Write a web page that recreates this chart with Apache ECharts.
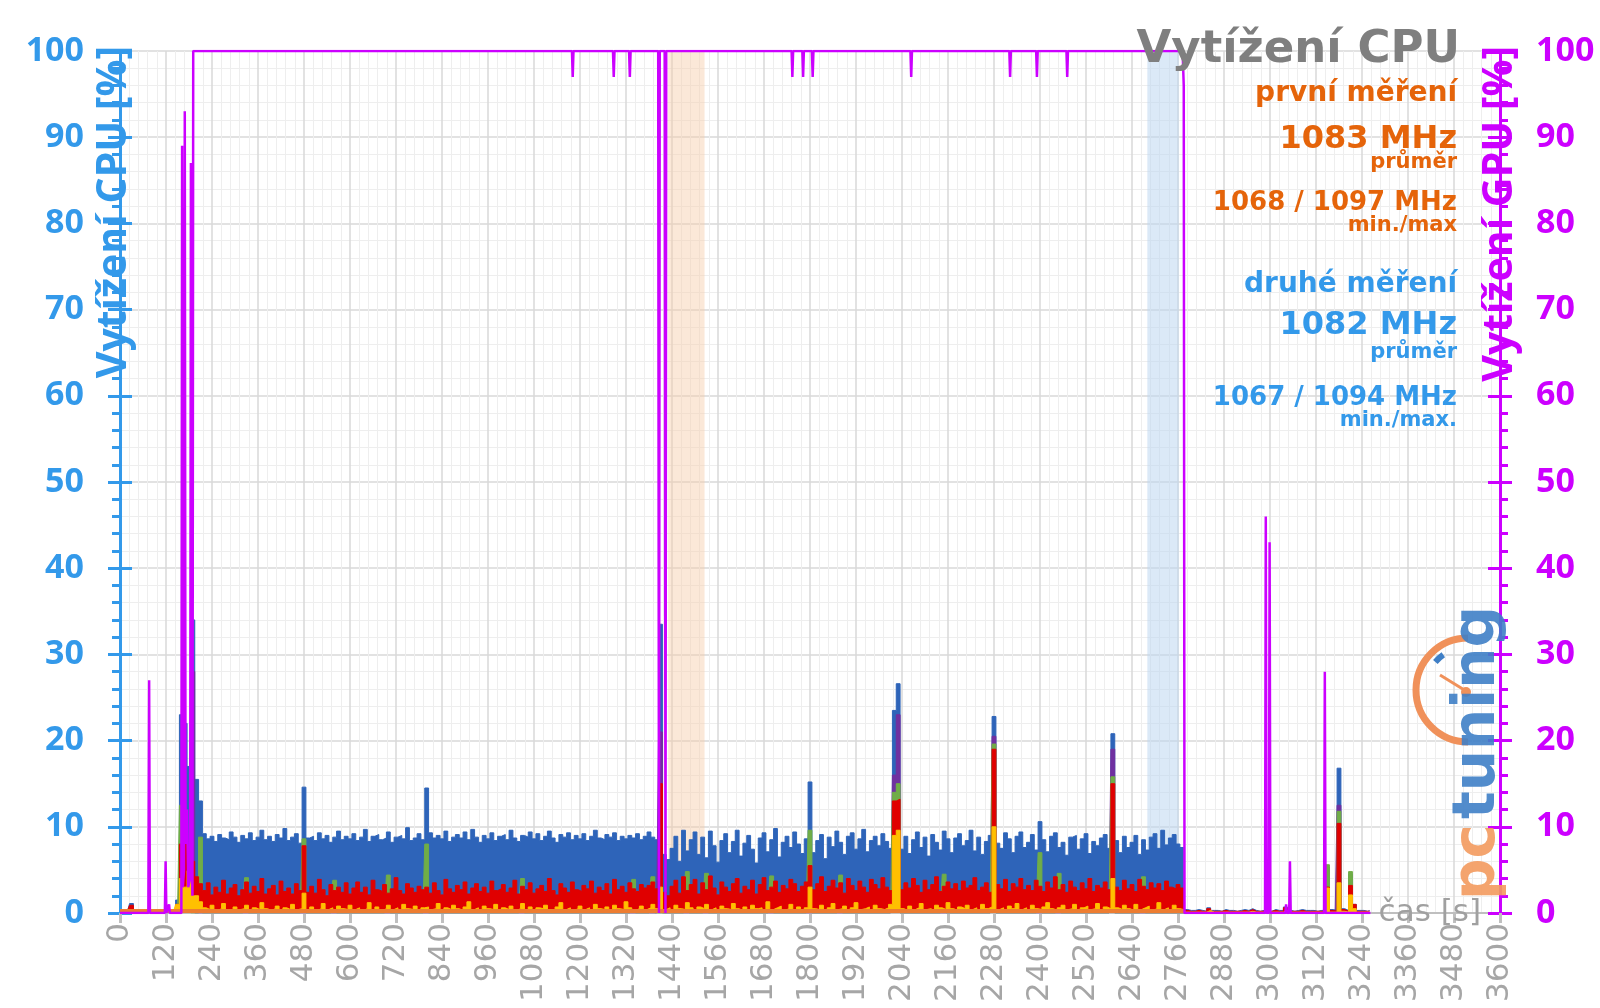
<!DOCTYPE html>
<html><head><meta charset="utf-8">
<script src="https://cdn.jsdelivr.net/npm/echarts@6/dist/echarts.min.js"></script>
<style>html,body{margin:0;padding:0;background:#fff}#c{width:1600px;height:1008px}</style>
</head><body><div id="c"></div>
<script>
// seconds between CPU samples
const STEP = 10;

// CPU load, visible top of each coloured layer, one value per STEP seconds (t = 0 .. 3260 s)
const cpuBlue = [
0.3,0.4,0.3,1.1,0.3,0.2,0.3,0.2,0.3,0.2,0.4,0.3,0.3,0.2,0.4,1.5,23,22,17,34,
15.5,13,9.2,8.6,8.9,8.3,9.1,8.7,8.5,9.4,8.8,8.2,9.0,8.6,9.3,8.4,8.8,9.6,8.5,8.9,
8.3,9.1,8.7,9.8,8.4,8.8,9.2,8.1,14.6,8.7,8.9,8.4,9.3,8.6,9.0,8.2,8.8,9.5,8.5,8.9,
8.6,9.2,8.4,8.8,9.7,8.3,8.9,9.1,8.5,8.7,9.4,8.2,8.8,9.0,8.6,9.9,8.4,8.7,9.2,8.5,
14.5,9.3,8.7,9.0,8.6,9.5,8.3,8.8,9.1,8.7,9.4,8.5,9.7,8.8,8.2,9.0,8.6,9.3,8.4,8.9,
9.1,8.5,9.6,8.7,8.3,9.0,8.8,9.4,8.6,9.2,8.4,8.9,9.5,8.7,8.2,9.1,8.8,9.3,8.5,9.0,
8.6,9.2,8.4,8.9,9.6,8.7,8.5,9.1,8.8,9.3,8.4,8.9,8.6,9.0,8.7,9.2,8.5,8.9,9.4,8.8,
8.5,33.5,6.8,6.2,7.5,8.9,6.0,9.6,7.2,8.5,9.4,6.8,8.8,6.4,9.5,7.8,5.9,8.4,9.2,7.0,
8.3,9.6,6.6,8.1,9.0,7.4,5.8,8.7,9.3,7.1,8.5,9.8,6.5,8.2,8.9,7.6,9.4,8.0,6.9,8.6,
15.2,7.0,8.4,9.1,6.3,8.8,7.7,9.5,8.2,6.8,8.9,9.3,7.4,8.6,9.7,7.1,8.4,8.9,7.8,9.2,
8.3,7.5,23.5,26.6,7.4,8.9,6.9,8.5,9.4,7.6,8.8,6.6,9.1,8.2,7.3,9.5,8.6,7.0,8.7,9.2,
7.8,8.4,9.6,7.2,8.8,6.8,8.3,9.0,22.8,8.1,7.5,9.3,8.6,7.0,8.9,9.4,7.6,8.2,9.1,7.3,
10.6,8.5,7.1,8.9,9.3,7.6,8.2,6.7,8.8,9.0,7.4,8.6,9.2,6.9,8.3,7.8,8.7,9.1,7.5,20.8,
8.4,7.0,8.9,7.6,8.2,9.0,6.8,8.5,7.3,8.8,9.2,7.5,9.6,7.9,8.7,9.1,8.0,7.6,0.4,0.3,
0.3,0.4,0.3,0.2,0.6,0.3,0.3,0.2,0.4,0.3,0.3,0.2,0.3,0.4,0.3,0.5,0.3,0.2,0.3,0.3,
0.2,0.4,0.3,0.3,0.7,0.3,0.2,0.3,0.4,0.3,0.3,0.3,0.2,0.3,0.3,5.3,0.4,0.3,16.8,0.5,
0.3,4.5,1.0,0.3,0.3,0.2,0.3
];
const cpuRed = [
0.3,0.2,0.3,0.9,0.2,0.2,0.3,0.2,0.2,0.3,0.2,0.3,0.2,0.3,0.4,1.0,8.0,9.4,5.0,6.0,
4.2,3.4,2.6,3.5,2.1,3.0,2.4,3.8,2.2,2.9,3.3,2.0,2.7,3.6,2.3,3.1,2.5,4.0,2.2,2.8,
3.2,2.1,3.7,2.5,2.9,2.2,3.4,2.6,7.8,2.4,3.1,2.3,3.9,2.7,2.0,3.3,2.6,3.0,2.4,3.5,
2.2,2.9,3.6,2.4,3.0,2.1,3.8,2.7,2.5,3.3,2.3,2.8,4.1,2.6,2.2,3.4,2.9,2.4,3.1,2.7,
3.0,2.3,3.5,2.6,2.1,3.9,2.8,2.4,3.2,2.7,3.6,2.2,2.9,3.4,2.5,3.0,2.3,3.7,2.6,2.8,
3.3,2.4,2.9,3.8,2.2,3.1,2.7,3.5,2.3,2.8,3.2,2.5,4.0,2.6,2.1,3.4,2.9,2.4,3.6,2.7,
2.5,3.2,2.8,3.7,2.3,3.0,2.6,3.4,2.2,3.9,2.7,3.1,2.4,3.5,2.8,2.5,3.3,2.9,3.2,3.6,
2.8,15.0,2.4,2.0,3.1,3.8,2.3,4.2,2.6,3.3,3.9,2.2,3.5,2.7,4.3,2.9,2.1,3.6,3.0,2.5,
3.4,4.0,2.3,3.1,2.7,3.8,2.2,3.3,4.1,2.6,3.0,3.7,2.4,3.2,2.8,3.9,3.4,2.5,3.1,3.6,
5.5,2.7,3.4,4.2,2.5,3.1,3.8,2.9,3.5,2.3,4.0,3.2,2.6,3.7,3.0,2.4,3.9,3.3,2.8,4.1,
3.0,2.6,13.0,13.2,2.7,3.5,2.9,4.0,3.2,2.4,3.8,2.7,3.3,4.2,2.5,3.1,3.6,2.8,3.4,2.6,
3.7,2.9,3.2,4.1,2.6,3.0,3.5,2.4,19.0,3.3,2.8,3.9,2.5,3.4,3.0,4.0,2.7,3.2,2.6,3.8,
3.1,2.5,3.6,2.9,4.2,2.7,3.3,2.4,3.7,3.0,2.6,3.5,2.8,4.0,2.5,3.2,2.9,3.6,2.7,15.0,
3.0,2.6,3.8,2.8,3.3,2.5,3.9,3.1,2.7,3.5,2.9,3.4,2.6,3.7,3.0,2.8,3.3,2.9,0.3,0.2,
0.2,0.3,0.2,0.2,0.5,0.2,0.2,0.2,0.3,0.2,0.2,0.2,0.2,0.3,0.2,0.4,0.2,0.2,0.2,0.2,
0.2,0.3,0.2,0.2,0.6,0.2,0.2,0.2,0.3,0.2,0.2,0.2,0.2,0.2,0.2,3.0,0.3,0.2,10.4,0.4,
0.2,3.2,1.0,0.2,0.2,0.2,0.2
];
const cpuYellow = [
0.1,0.1,0.1,0.3,0.1,0.1,0.1,0.1,0.1,0.1,0.1,0.1,0.1,0.1,0.2,1.0,4.0,3.0,4.9,2.0,
2.0,1.3,0.6,0.4,0.9,0.3,0.5,1.1,0.4,0.3,0.7,0.4,0.5,0.9,0.3,0.6,0.4,1.2,0.5,0.3,
0.5,0.8,0.3,0.6,0.4,1.0,0.4,0.5,2.3,0.4,0.7,0.3,0.5,1.1,0.4,0.6,0.3,0.8,0.5,0.4,
0.9,0.4,0.6,0.3,0.5,1.2,0.4,0.7,0.3,0.5,0.9,0.4,0.6,0.3,1.0,0.5,0.4,0.8,0.3,0.6,
0.7,0.4,0.5,1.1,0.3,0.6,0.4,0.9,0.5,0.3,0.7,1.3,0.4,0.6,0.3,0.8,0.5,0.4,1.0,0.3,
0.6,0.4,0.8,0.3,0.5,1.1,0.4,0.7,0.3,0.6,0.5,0.9,0.4,0.3,0.7,1.2,0.4,0.6,0.3,0.5,
0.8,0.4,0.6,0.3,1.0,0.5,0.4,0.7,0.3,0.9,0.5,0.4,1.3,0.6,0.3,0.5,0.8,0.4,0.6,1.0,
0.5,3.0,0.4,0.6,0.3,0.9,0.5,0.4,1.2,0.6,0.3,0.7,0.5,1.0,0.4,0.6,0.3,0.8,0.5,0.4,
1.1,0.5,0.3,0.7,0.4,0.9,0.5,0.6,0.3,1.3,0.4,0.6,0.8,0.3,0.5,1.0,0.4,0.7,0.3,0.6,
3.0,0.5,0.4,0.9,0.3,0.6,1.1,0.4,0.5,0.8,0.3,0.6,1.2,0.4,0.5,0.7,0.3,0.9,0.5,0.4,
0.6,1.0,9.0,9.6,0.5,0.3,0.8,0.4,0.6,1.1,0.4,0.5,0.3,0.9,0.6,0.4,1.2,0.5,0.3,0.7,
0.5,0.9,0.4,0.6,0.3,1.0,0.5,0.7,10.0,0.4,0.6,0.3,0.8,0.5,1.1,0.4,0.6,0.3,0.9,0.5,
0.4,0.7,1.2,0.5,0.3,0.6,0.9,0.4,0.5,1.0,0.3,0.6,0.8,0.4,0.5,1.1,0.3,0.7,0.5,4.0,
0.6,0.4,0.9,0.5,0.3,1.0,0.4,0.6,0.8,0.3,0.5,1.2,0.4,0.6,0.3,0.9,0.5,0.4,0.1,0.1,
0.1,0.1,0.1,0.1,0.3,0.1,0.1,0.1,0.1,0.1,0.1,0.1,0.1,0.1,0.1,0.2,0.1,0.1,0.1,0.1,
0.1,0.1,0.1,0.1,0.3,0.1,0.1,0.1,0.1,0.1,0.1,0.1,0.1,0.1,0.1,2.9,0.1,0.1,3.5,0.2,
0.1,2.1,0.5,0.1,0.1,0.1,0.1
];
// sparse layers: [time s, value %]
const cpuGreen = [
[150,0],[160,12.5],[170,8.0],[180,6.0],[190,0],[200,0],[210,8.8],[220,0],
[320,0],[330,4.1],[340,0],[470,0],[480,8.6],[490,0],[550,0],[560,3.8],[570,0],
[690,0],[700,4.4],[710,0],[790,0],[800,8.0],[810,0],[1040,0],[1050,4.0],[1060,0],
[1330,0],[1340,3.9],[1350,0],[1380,0],[1390,4.2],[1400,0],[1470,0],[1480,4.8],[1490,0],
[1520,0],[1530,4.6],[1540,0],[1690,0],[1700,4.3],[1710,0],[1790,0],[1800,9.6],[1810,0],
[1870,0],[1880,4.4],[1890,0],[2010,0],[2020,14.0],[2030,15.0],[2040,0],
[2140,0],[2150,4.5],[2160,0],[2270,0],[2280,19.6],[2290,0],[2390,0],[2400,7.0],[2410,0],
[2440,0],[2450,4.6],[2460,0],[2580,0],[2590,15.8],[2600,0],[2660,0],[2670,4.2],[2680,0],
[3140,0],[3150,5.6],[3160,0],[3170,0],[3180,11.8],[3190,0],[3200,0],[3210,4.8],[3220,0]
];
const cpuPurple = [
[180,0],[190,28],[200,0],[1400,0],[1410,21],[1420,0],[2010,0],[2020,16],[2030,23],[2040,0],
[2270,0],[2280,20.5],[2290,0],[2580,0],[2590,19],[2600,0],[3170,0],[3180,12.5],[3190,0]
];
const cpuOrange = [[0,0.4],[2775,0.4],[2780,0],[3260,0]];

// GPU load (right axis), [time s, value %]
const gpuLoad = [
[0,0],[74,0],[76,27],[78,0],[117,0],[119,6],[121,0],[126,0],[128,1],[130,0],
[160,0],[162,89],[164,3],[167,5],[169,93],[171,8],[175,12],[178,3],[183,4],[185,87],[187,10],[189,2],[191,100],
[1179,100],[1181,97],[1183,100],[1286,100],[1288,97],[1290,100],[1328,100],[1330,97],[1332,100],
[1404,100],[1406,0],[1408,100],[1421,100],[1423,0],[1425,100],
[1752,100],[1754,97],[1756,100],[1780,100],[1782,97],[1784,100],[1805,100],[1807,97],[1809,100],
[2062,100],[2064,97],[2066,100],[2320,100],[2322,97],[2324,100],[2390,100],[2392,97],[2394,100],
[2469,100],[2471,97],[2473,100],[2772,100],[2775,96],[2777,0],
[2987,0],[2989,46],[2991,0],[2997,0],[2999,43],[3001,0],[3040,0],[3042,1],[3044,0],
[3050,0],[3052,6],[3054,0],[3141,0],[3143,28],[3145,0],[3262,0]
];

// shaded time ranges [from, to] in s
const bandOrange = [1430, 1525];
const bandBlue = [2680, 2762];

// texts
const titleText = 'Vytížení CPU';
const leftName = 'Vytížení CPU [%]';
const rightName = 'Vytížení GPU [%]';
const xName = 'čas [s]';
const infoLines = [
  ['první měření', 'o', 28], ['1083 MHz', 'o', 32], ['průměr', 'o', 21],
  ['1068 / 1097 MHz', 'o', 26], ['min./max', 'o', 21],
  ['druhé měření', 'b', 28], ['1082 MHz', 'b', 32], ['průměr', 'b', 21],
  ['1067 / 1094 MHz', 'b', 26], ['min./max.', 'b', 21]
];

const BLUE_T = '#3399ea', ORANGE_T = '#e5640a', MAG = '#cc00ff', GRAY = '#a6a6a6';

const chart = echarts.init(document.getElementById('c'), null, {renderer: 'canvas'});
const seq = arr => arr.map((v, i) => [i * STEP, v]);
function area(name, data, color, z) {
  return {type: 'line', name, data, step: 'middle', symbol: 'none', showSymbol: false,
    lineStyle: {width: 1, color}, areaStyle: {color, opacity: 1}, itemStyle: {color},
    z, silent: true, animation: false, xAxisIndex: 0, yAxisIndex: 0};
}
const infoY = [94, 140, 163, 203, 226, 285, 326, 353, 398, 421];
const graphics = [];
graphics.push({type: 'text', x: 1460, y: 50, z: 100, style: {text: titleText, fill: '#7f7f7f',
  fontSize: 45, fontWeight: 'bold', fontFamily: 'DejaVu Sans', align: 'right', verticalAlign: 'middle',
  textAlign: 'right', textVerticalAlign: 'middle'}});
infoLines.forEach((l, i) => graphics.push({type: 'text', x: 1457, y: infoY[i], z: 100,
  style: {text: l[0], fill: l[1] === 'o' ? ORANGE_T : BLUE_T, fontSize: l[2], fontWeight: 'bold',
  fontFamily: 'DejaVu Sans', align: 'right', verticalAlign: 'middle', textAlign: 'right', textVerticalAlign: 'middle'}}));
graphics.push({type: 'text', x: 114, y: 46, rotation: Math.PI / 2, z: 100, style: {text: leftName, fill: BLUE_T,
  fontSize: 41, fontWeight: 'bold', fontFamily: 'Open Sans', align: 'right', verticalAlign: 'middle',
  textAlign: 'right', textVerticalAlign: 'middle'}});
graphics.push({type: 'text', x: 1500, y: 46, rotation: Math.PI / 2, z: 100, style: {text: rightName, fill: MAG,
  fontSize: 41, fontWeight: 'bold', fontFamily: 'Open Sans', align: 'right', verticalAlign: 'middle',
  textAlign: 'right', textVerticalAlign: 'middle'}});
graphics.push({type: 'text', x: 1481, y: 913, z: 100, style: {text: xName, fill: '#a0a0a0',
  fontSize: 31, fontFamily: 'DejaVu Sans', align: 'right', verticalAlign: 'middle',
  textAlign: 'right', textVerticalAlign: 'middle'}});
// pctuning logo
graphics.push({type: 'group', z: 90, children: [
  {type: 'arc', shape: {cx: 1468, cy: 690, r: 52, startAngle: Math.PI / 2, endAngle: Math.PI * 1.5, clockwise: true},
    style: {stroke: '#f0915a', fill: null, lineWidth: 7}, z: 90},
  {type: 'arc', shape: {cx: 1468, cy: 690, r: 43, startAngle: 3.85, endAngle: 4.1, clockwise: true},
    style: {stroke: '#3f7fc6', fill: null, lineWidth: 6}, z: 91},
  {type: 'line', shape: {x1: 1466, y1: 691, x2: 1440, y2: 675}, style: {stroke: '#f0915a', lineWidth: 3}, z: 91},
  {type: 'circle', shape: {cx: 1466, cy: 692, r: 5}, style: {fill: '#f0915a'}, z: 91},
  {type: 'text', x: 1479, y: 900, rotation: Math.PI / 2, z: 92, style: {text: 'pc', fill: '#f39a5e', opacity: 0.9,
    fontSize: 58, fontWeight: 'bold', fontFamily: 'DejaVu Sans', align: 'left', verticalAlign: 'middle',
    textAlign: 'left', textVerticalAlign: 'middle'}},
  {type: 'text', x: 1479, y: 819, rotation: Math.PI / 2, z: 92, style: {text: 'tuning', fill: '#3f7fc6', opacity: 0.9,
    fontSize: 58, fontWeight: 'bold', fontFamily: 'DejaVu Sans', align: 'left', verticalAlign: 'middle',
    textAlign: 'left', textVerticalAlign: 'middle'}}
]});

const yBase = (pos, color, labels) => ({
  type: 'value', min: 0, max: 100, interval: 10, position: pos, offset: 0,
  axisLine: {show: true, onZero: false, lineStyle: {color, width: 3}},
  axisTick: {show: true, length: 12, lineStyle: {color, width: 3}},
  minorTick: {show: true, splitNumber: 5, length: 8, lineStyle: {color, width: 3}},
  axisLabel: {show: labels, color, fontSize: 34, fontWeight: 'bold', fontFamily: 'Open Sans', margin: 36},
  splitLine: {show: false}, minorSplitLine: {show: false}
});
const yLeft = yBase('left', BLUE_T, true);
yLeft.splitLine = {show: true, lineStyle: {color: '#d9d9d9', width: 1.5}};
yLeft.minorSplitLine = {show: true, lineStyle: {color: '#eeeeee', width: 1}};
const yRight = yBase('right', MAG, true);
const yLeftIn = yBase('left', BLUE_T, false);
yLeftIn.axisTick.inside = true; yLeftIn.minorTick.show = false; yLeftIn.axisLine.show = false;
const yRightIn = yBase('right', MAG, false);
yRightIn.axisTick.inside = true; yRightIn.minorTick.show = false; yRightIn.axisLine.show = false;

chart.setOption({
  animation: false,
  backgroundColor: '#ffffff',
  grid: {left: 120, right: 100, top: 51, bottom: 95, containLabel: false},
  xAxis: {
    type: 'value', min: 0, max: 3600, interval: 120,
    axisLine: {show: true, onZero: false, lineStyle: {color: '#bfbfbf', width: 2}},
    axisTick: {show: true, length: 10, lineStyle: {color: '#bfbfbf', width: 3}},
    minorTick: {show: false, splitNumber: 5},
    axisLabel: {rotate: 90, color: GRAY, fontSize: 31, fontFamily: 'DejaVu Sans', margin: 10,
      showMaxLabel: true, showMinLabel: true, formatter: v => String(v)},
    splitLine: {show: true, lineStyle: {color: '#d9d9d9', width: 1.5}},
    minorSplitLine: {show: true, lineStyle: {color: '#eeeeee', width: 1}}
  },
  yAxis: [yLeft, yRight, yLeftIn, yRightIn],
  series: [
    {type: 'line', data: [], z: 1, silent: true, markArea: {silent: true, data: [
      [{xAxis: bandOrange[0], itemStyle: {color: 'rgba(247,205,168,0.45)'}}, {xAxis: bandOrange[1]}],
      [{xAxis: bandBlue[0], itemStyle: {color: 'rgba(189,215,240,0.55)'}}, {xAxis: bandBlue[1]}]
    ]}},
    area('blue', seq(cpuBlue), '#2e64b9', 2),
    area('purple', cpuPurple, '#7030a0', 3),
    area('green', cpuGreen, '#70ad47', 4),
    area('red', seq(cpuRed), '#e00000', 5),
    area('yellow', seq(cpuYellow), '#ffc000', 6),
    area('orange', cpuOrange, '#ed7d31', 7),
    {type: 'line', name: 'GPU', data: gpuLoad, yAxisIndex: 1, symbol: 'none', showSymbol: false,
      lineStyle: {color: MAG, width: 2.5}, itemStyle: {color: MAG}, z: 8, silent: true}
  ],
  graphic: graphics
});
</script></body></html>
